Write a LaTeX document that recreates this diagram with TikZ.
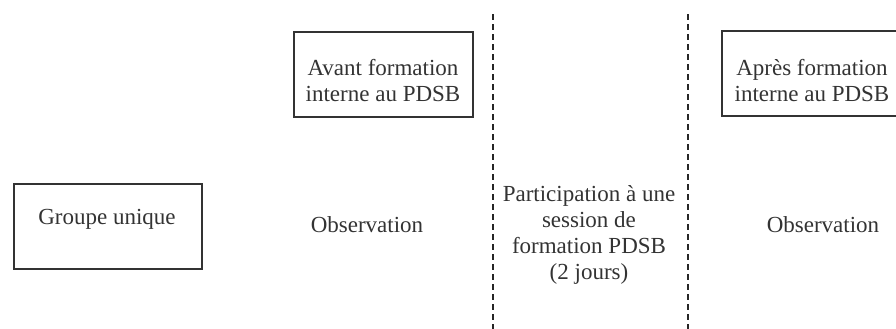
\documentclass[tikz,border=0pt]{standalone}
\usepackage{fontspec}
\setmainfont{Liberation Serif}
\begin{document}
\begin{tikzpicture}[x=0.5pt,y=-0.5pt,
  box/.style={draw=black!80,line width=0.8pt,inner sep=0pt,anchor=north west},
  lbl/.style={align=center,font=\fontsize{11.5pt}{13pt}\selectfont,text=black!80,inner sep=0pt},
  sep/.style={draw=black!85,line width=1pt,dash pattern=on 3pt off 2pt}]
\useasboundingbox (0,0) rectangle (896,328);
% boxes
\node[box,minimum width=94pt,minimum height=42.5pt] (gbox) at (13,183) {};
\node[box,minimum width=89.5pt,minimum height=42.5pt] (abox) at (293,31) {};
\node[box,minimum width=91pt,minimum height=42.5pt] (pbox) at (721,30) {};
% texts
\node[lbl] (gtext) at (107,219) {Groupe unique};
\node[lbl] (atext) at (383,81) {Avant formation\\interne au PDSB};
\node[lbl] (ptext) at (812,81) {Après formation\\interne au PDSB};
\node[lbl] (obs1) at (367,225) {Observation};
\node[lbl] (obs2) at (823,225) {Observation};
\node[lbl] (part) at (589,235) {Participation à une\\session de\\formation PDSB\\(2 jours)};
% separators
\coordinate (s1t) at (493,14);
\coordinate (s1b) at (493,330);
\coordinate (s2t) at (688,14);
\coordinate (s2b) at (688,330);
\draw[sep] (s1t) -- (s1b);
\draw[sep] (s2t) -- (s2b);
\end{tikzpicture}
\end{document}
